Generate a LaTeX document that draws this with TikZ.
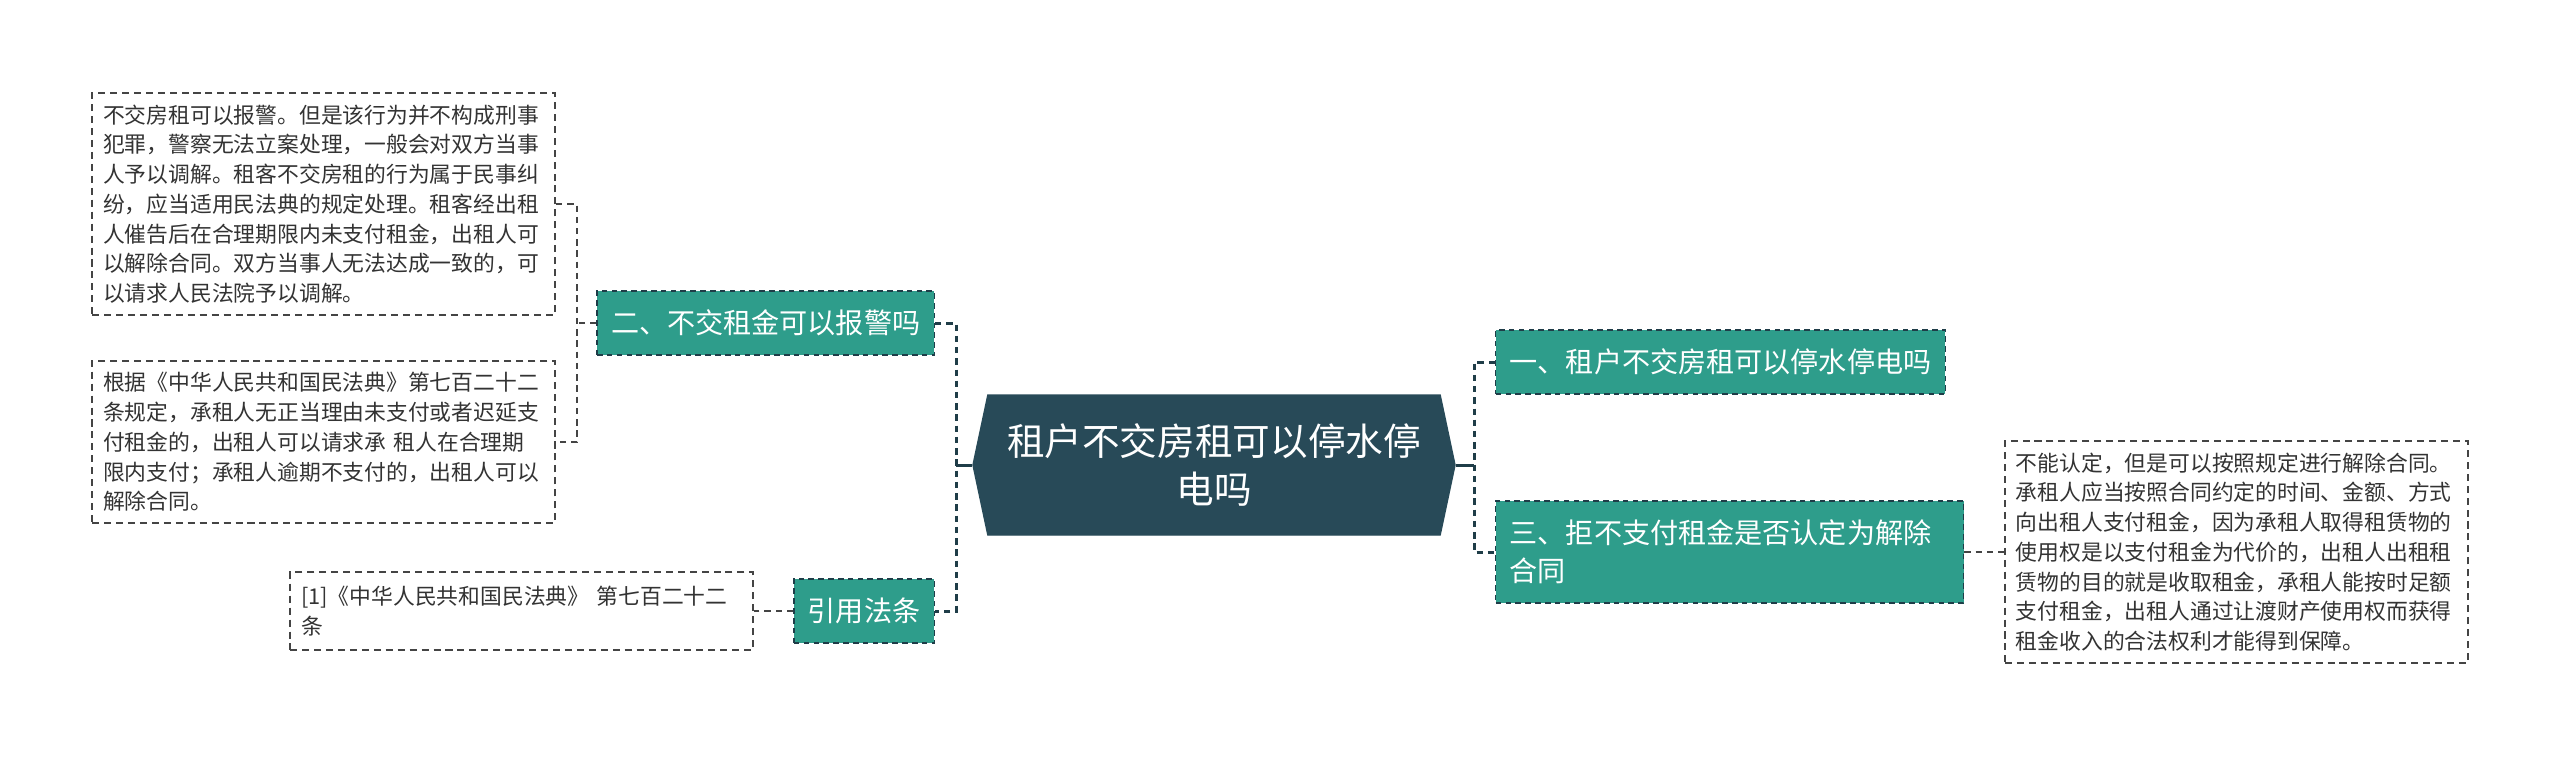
\documentclass[tikz,border=0pt]{standalone}
\usepackage{fontspec}
\setmainfont{Noto Sans CJK SC}
\usetikzlibrary{positioning,shapes.symbols}
\definecolor{MapRoot}{HTML}{284A58}
\definecolor{MapTeal}{HTML}{2E9D8B}
\definecolor{MapEdge}{HTML}{1F3D48}
\definecolor{MapNote}{HTML}{444444}
\definecolor{MapText}{HTML}{333333}
\tikzset{
  mmRoot/.style={
    signal,
    signal to=west and east,
    signal pointer angle=156,
    fill=MapRoot,
    draw=MapRoot,
    text=white,
    font=\fontsize{10.7pt}{13.9pt}\selectfont,
    align=center,
    minimum width=48.2mm,
    minimum height=14mm,
    inner sep=0pt
  },
  mmTopic/.style={
    fill=MapTeal,
    draw=MapEdge,
    dash pattern=on 1.6pt off 1.2pt,
    line width=0.4pt,
    text=white,
    font=\fontsize{8pt}{10.8pt}\selectfont,
    inner xsep=1.4mm,
    inner ysep=0pt,
    minimum height=6.4mm,
    align=left
  },
  mmNote/.style={
    draw=MapNote,
    dash pattern=on 2pt off 1.4pt,
    line width=0.5pt,
    text=MapText,
    font=\fontsize{6.2pt}{8.45pt}\selectfont,
    inner xsep=1.1mm,
    text width=44.1mm,
    align=left
  },
  mmLink/.style={
    draw=MapEdge,
    line width=0.85pt,
    dash pattern=on 1.8pt off 1.4pt
  },
  mmTick/.style={
    draw=MapEdge,
    line width=0.85pt
  },
  mmSubLink/.style={
    draw=MapNote,
    line width=0.5pt,
    dash pattern=on 1.8pt off 1.4pt
  }
}
\begin{document}
\begin{tikzpicture}[x=0.1mm, y=-0.1mm]
  \fill[white] (0,0) rectangle (2560,757);
  \useasboundingbox (0,0) rectangle (2560,757);

  % centre and first level
  \node (root) [mmRoot] at (1214,465) {租户不交房租可以停水停\\电吗};
  \node (nPolice) [mmTopic, anchor=east] at (935,323) {二、不交租金可以报警吗};
  \node (nLaw) [mmTopic, anchor=east] at (935,611) {引用法条};
  \node (nCut) [mmTopic, anchor=west] at (1495,362) {一、租户不交房租可以停水停电吗};
  \node (nTerm) [mmTopic, anchor=west, text width=44mm, minimum height=10.2mm] at (1495,552) {三、拒不支付租金是否认定为解除\\合同};

  % notes
  \node (notePolice) [mmNote, anchor=east, minimum height=21.9mm] at (556,204) {
    不交房租可以报警。但是该行为并不构成刑事\\
    犯罪，警察无法立案处理，一般会对双方当事\\
    人予以调解。租客不交房租的行为属于民事纠\\
    纷，应当适用民法典的规定处理。租客经出租\\
    人催告后在合理期限内未支付租金，出租人可\\
    以解除合同。双方当事人无法达成一致的，可\\
    以请求人民法院予以调解。
  };
  \node (noteLaw) [mmNote, anchor=east, minimum height=16.1mm] at (556,442) {
    根据《中华人民共和国民法典》第七百二十二\\
    条规定，承租人无正当理由未支付或者迟延支\\
    付租金的，出租人可以请求承 租人在合理期\\
    限内支付；承租人逾期不支付的，出租人可以\\
    解除合同。
  };
  \node (noteRef) [mmNote, anchor=east, minimum height=7.8mm] at (754,611) {
    [1]《中华人民共和国民法典》 第七百二十二\\
    条
  };
  \node (noteTerm) [mmNote, anchor=west, minimum height=21.7mm] at (2004,552) {
    不能认定，但是可以按照规定进行解除合同。\\
    承租人应当按照合同约定的时间、金额、方式\\
    向出租人支付租金，因为承租人取得租赁物的\\
    使用权是以支付租金为代价的，出租人出租租\\
    赁物的目的就是收取租金，承租人能按时足额\\
    支付租金，出租人通过让渡财产使用权而获得\\
    租金收入的合法权利才能得到保障。
  };

  \coordinate (jL) at (956,465);
  \coordinate (jR) at (1474,465);
  \coordinate (jP) at (577,323);

  \draw [mmTick] (root.west) -- (jL);
  \draw [mmLink] (nPolice.east) -| (jL) |- (nLaw.east);
  \draw [mmTick] (root.east) -- (jR);
  \draw [mmLink] (nCut.west) -| (jR) |- (nTerm.west);
  \draw [mmSubLink] (nPolice.west) -- (jP);
  \draw [mmSubLink] (notePolice.east) -| (jP) |- (noteLaw.east);
  \draw [mmSubLink] (nLaw.west) -- (noteRef.east);
  \draw [mmSubLink] (nTerm.east) -- (noteTerm.west);
\end{tikzpicture}
\end{document}
